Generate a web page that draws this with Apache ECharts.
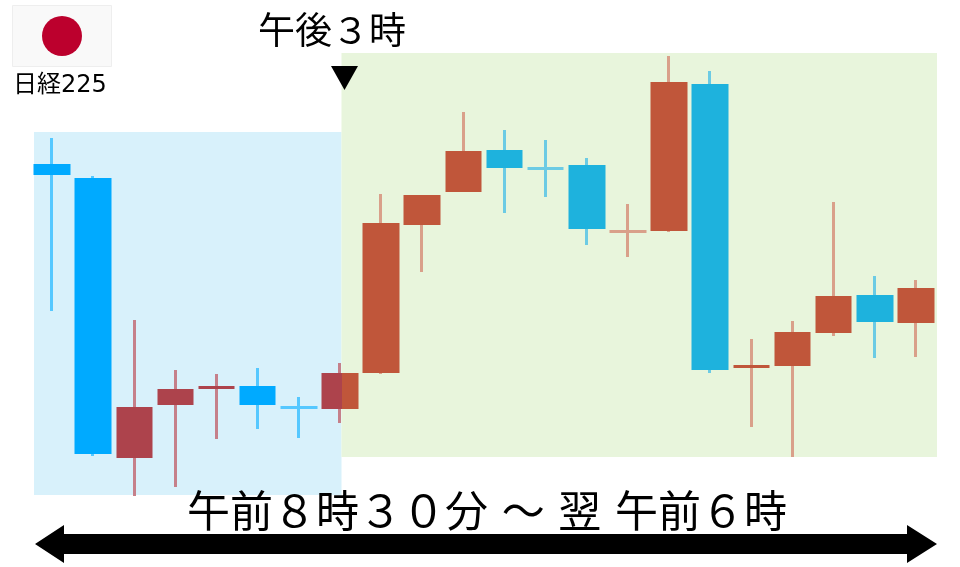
<!DOCTYPE html>
<html><head><meta charset="utf-8">
<style>html,body{margin:0;padding:0;background:#fff}#c{width:960px;height:567px}</style>
<script src="https://cdn.jsdelivr.net/npm/echarts@6/dist/echarts.min.js"></script>
</head><body><div id="c"></div>
<script>
// Values on an arbitrary price-like scale
const categories = Array.from('ABCDEFGHIJKLMNOPQRSTUV');
const opens  = [403,389,109,162,178,181,161,158,194,342,375,417,400,402,334,336,483,199,201,234,272,244];
const closes = [392,113,160,178,181,162,158,194,344,372,416,399,397,338,337,485,197,202,235,271,245,279];
const lows   = [256,111, 71, 80,128,138,129,144,193,295,375,354,370,322,310,335,194,140,110,231,209,210];
const highs  = [429,391,247,197,193,199,170,204,373,372,455,437,427,409,363,511,496,228,246,365,291,287];
const zones  = ['am','am','am','am','am','am','am','am','pm','pm','pm','pm','pm','pm','pm','pm','pm','pm','pm','pm','pm','pm'];
const faint  = [0,0,0,0,0,0,1,0,0,0,0,0,1,0,1,0,0,0,0,0,0,0];
const straddle = 7;

const palette = {
  am:{up:'#ad434c',down:'#00aaff',upWick:'#c5808a',downWick:'#55c8ff'},
  pm:{up:'#c0563a',down:'#1eb2dd',upWick:'#d9a08a',downWick:'#6ccbe4'}
};
const dir = i => closes[i]>opens[i] ? 'up' : 'down';
function solid(i){return palette[zones[i]][dir(i)+(faint[i]?'Wick':'')];}
function bodyColor(i){
  if(i===straddle){
    const k=dir(i), s=0.56;
    return {type:'linear',x:0,y:0,x2:1,y2:0,colorStops:[
      {offset:0,color:palette.am[k]},{offset:s,color:palette.am[k]},
      {offset:s,color:palette.pm[k]},{offset:1,color:palette.pm[k]}]};
  }
  return solid(i);
}
function wickColor(i){return palette[zones[i]][dir(i)+'Wick'];}

const wicks = categories.map((_,i)=>({value:[opens[i],closes[i],lows[i],highs[i]],
  itemStyle:{color:wickColor(i),color0:wickColor(i),borderColor:wickColor(i),borderColor0:wickColor(i)}}));
const bodies = categories.map((_,i)=>{
  const b=bodyColor(i), hi=Math.max(opens[i],closes[i]), lo=Math.min(opens[i],closes[i]);
  return {value:[opens[i],closes[i],lo,hi],
    itemStyle:{color:b,color0:b,borderColor:b,borderColor0:b}};
});

const txt = (text,x,y,size,align)=>({type:'text',x,y,z:10,style:{text,x:0,y:0,fill:'#000',
  font:size+'px "DejaVu Sans","Noto Sans CJK JP"',textAlign:align||'left',textVerticalAlign:'middle'}});

const chart = echarts.init(document.getElementById('c'),null,{renderer:'canvas'});
chart.setOption({
  animation:false,
  backgroundColor:'#fff',
  grid:{left:31.4,width:905.1,top:0,bottom:0},
  xAxis:{type:'category',data:categories,show:false,boundaryGap:true},
  yAxis:{type:'value',min:0,max:567,show:false,splitLine:{show:false}},
  graphic:[
    {type:'rect',z:0,shape:{x:34,y:132,width:307.5,height:363},style:{fill:'#d8f1fb'}},
    {type:'rect',z:0,shape:{x:341.5,y:53,width:595.5,height:404},style:{fill:'#e8f5dc'}},
    {type:'rect',z:1,shape:{x:12.5,y:5.5,width:99,height:61},style:{fill:'#f9f9f9',stroke:'#eeeeee',lineWidth:1}},
    {type:'circle',z:2,shape:{cx:62,cy:36,r:20},style:{fill:'#bc002d'}},
    {type:'polygon',z:5,shape:{points:[[331,66],[358,66],[344.5,90]]},style:{fill:'#000'}},
    {type:'polygon',z:5,shape:{points:[[35,544],[64,525],[64,534],[907,534],[907,525],[937,544],[907,563],[907,554],[64,554],[64,563]]},style:{fill:'#000'}},
    txt('日経225',13,86,24),
    txt('午後３時',258,34,37),
    txt('午前８時３０分 ～ 翌 午前６時',187,516,43)
  ],
  series:[
    {type:'candlestick',barWidth:1,itemStyle:{borderWidth:3},data:wicks,z:3},
    {type:'candlestick',barWidth:37,itemStyle:{borderWidth:0},data:bodies,z:4}
  ]
});
</script></body></html>
